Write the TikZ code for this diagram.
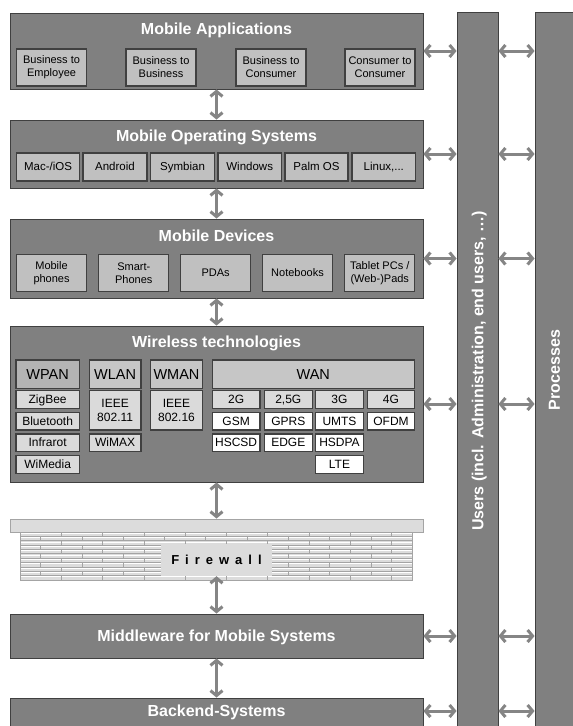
\documentclass[tikz,border=0pt]{standalone}
\usepackage{fontspec}
\setmainfont{Liberation Sans}
\usetikzlibrary{arrows.meta}
\definecolor{mainfill}{HTML}{808080}
\definecolor{edgec}{HTML}{404040}
\definecolor{subfill}{HTML}{C0C0C0}
\definecolor{hdrA}{HTML}{B4B4B4}
\definecolor{hdrB}{HTML}{C6C6C6}
\definecolor{itemfill}{HTML}{DADADA}
\definecolor{arrc}{HTML}{858585}
\definecolor{wallc}{HTML}{DCDCDC}
\definecolor{mortar}{HTML}{A4A4A4}
\newcommand\boxat[7]{%
  \pgfmathsetmacro\bw{#4-#2}\pgfmathsetmacro\bh{#5-#3}%
  \pgfmathsetmacro\bcx{(#2+#4)/2}\pgfmathsetmacro\bcy{(#3+#5)/2}%
  \node[#6, minimum width=\bw pt, minimum height=\bh pt] (#1) at (\bcx,\bcy) {#7};}
\tikzset{
  mainbox/.style={draw=edgec, fill=mainfill, line width=0.9pt, inner sep=0pt},
  title/.style={text=white, font=\fontsize{16}{19}\selectfont\bfseries, inner sep=0pt, text height=11.5pt, text depth=0pt},
  subbox/.style={draw=edgec, fill=subfill, line width=1.1pt, inner sep=0pt, align=center, font=\fontsize{11}{13}\selectfont},
  oneline/.style={text height=8.2pt, text depth=0.4pt},
  hdrbox/.style={draw=edgec, line width=1.1pt, inner sep=0pt, align=center, font=\fontsize{14.5}{16}\selectfont, text height=10.5pt, text depth=0pt},
  itembox/.style={draw=edgec, fill=itemfill, line width=1.1pt, inner sep=0pt, align=center, font=\fontsize{12}{14}\selectfont},
  whitebox/.style={itembox, fill=white},
  dblarrow/.style={draw=arrc, line width=3pt, arrows={Straight Barb[length=5pt,width=12pt]-Straight Barb[length=5pt,width=12pt]}},
}
\begin{document}
\begin{tikzpicture}[x=1pt,y=-1pt]
\clip (0,0) rectangle (573,726);
\fill[white] (0,0) rectangle (573,726);
% side columns
\boxat{users}{457}{12}{498}{745}{mainbox}{}
\boxat{proc}{535}{12}{590}{745}{mainbox}{}
\node[title, rotate=90] (userslab) at (477.5,371) {Users (incl. Administration, end users, …)};
\node[title, rotate=90] (proclab) at (554,370) {Processes};
% Mobile Applications
\boxat{ma}{10}{13}{423}{89}{mainbox}{}
\node[title] (matitle) at (216.5,29) {Mobile Applications};
\boxat{ma1}{16.5}{49}{86.6}{86}{subbox}{Business to\\Employee}
\boxat{ma2}{126}{49}{196}{86}{subbox}{Business to\\Business}
\boxat{ma3}{236}{49}{306}{86}{subbox}{Business to\\Consumer}
\boxat{ma4}{345}{49}{415}{86}{subbox}{Consumer to\\Consumer}
% Mobile OS
\boxat{os}{10}{120}{423}{188}{mainbox}{}
\node[title] (ostitle) at (216.5,136) {Mobile Operating Systems};
\boxat{os1}{16.5}{153}{79.7}{181}{subbox,oneline,font=\fontsize{11.5}{13}\selectfont}{Mac-/iOS}
\boxat{os2}{83}{153}{147}{181}{subbox,oneline,font=\fontsize{11.5}{13}\selectfont}{Android}
\boxat{os3}{150.6}{153}{214.5}{181}{subbox,oneline,font=\fontsize{11.5}{13}\selectfont}{Symbian}
\boxat{os4}{218}{153}{281.4}{181}{subbox,oneline,font=\fontsize{11.5}{13}\selectfont}{Windows}
\boxat{os5}{285}{153}{348}{181}{subbox,oneline,font=\fontsize{11.5}{13}\selectfont}{Palm OS}
\boxat{os6}{352}{153}{415.6}{181}{subbox,oneline,font=\fontsize{11.5}{13}\selectfont}{Linux,...}
% Mobile Devices
\boxat{md}{10}{219}{423}{298}{mainbox}{}
\node[title] (mdtitle) at (216.5,236) {Mobile Devices};
\boxat{md1}{16.5}{254.6}{86.6}{291.5}{subbox}{Mobile\\phones}
\boxat{md2}{98.7}{254.6}{168.9}{291.5}{subbox}{Smart-\\Phones}
\boxat{md3}{180.6}{254.6}{250.7}{291.5}{subbox,oneline}{PDAs}
\boxat{md4}{262.4}{254.6}{332.6}{291.5}{subbox,oneline}{Notebooks}
\boxat{md5}{344.7}{254.6}{414.8}{291.5}{subbox}{Tablet PCs /\\(Web-)Pads}
% Wireless
\boxat{wl}{10}{326}{423}{482}{mainbox}{}
\node[title] (wltitle) at (216.5,342) {Wireless technologies};
\boxat{wpan}{16}{360}{79.3}{388.3}{hdrbox,fill=hdrA}{WPAN}
\boxat{wlan}{89.3}{360}{141}{388.3}{hdrbox,fill=hdrB}{WLAN}
\boxat{wman}{150.7}{360}{202.3}{388.3}{hdrbox,fill=hdrB}{WMAN}
\boxat{wan}{212.3}{360}{414.3}{388.3}{hdrbox,fill=hdrB}{WAN}
\boxat{zig}{16}{390.7}{79.3}{408.3}{itembox,oneline}{ZigBee}
\boxat{blu}{16}{412.3}{79.3}{430}{itembox,oneline}{Bluetooth}
\boxat{inf}{16}{434}{79.3}{451.7}{itembox,oneline}{Infrarot}
\boxat{wim}{16}{455.7}{79.3}{473.3}{itembox,oneline}{WiMedia}
\boxat{ie11}{89.3}{390.7}{141}{430}{itembox}{IEEE\\802.11}
\boxat{wimax}{89.3}{434}{141}{451.7}{itembox,oneline}{WiMAX}
\boxat{ie16}{150.7}{390.7}{202.3}{430}{itembox}{IEEE\\802.16}
\boxat{g2}{212.3}{390.7}{260}{408.3}{itembox,oneline}{2G}
\boxat{g25}{264.3}{390.7}{312.3}{408.3}{itembox,oneline}{2,5G}
\boxat{g3}{315.7}{390.7}{363.3}{408.3}{itembox,oneline}{3G}
\boxat{g4}{367.7}{390.7}{414.3}{408.3}{itembox,oneline}{4G}
\boxat{gsm}{212.3}{412.3}{260}{430}{whitebox,oneline}{GSM}
\boxat{gprs}{264.3}{412.3}{312.3}{430}{whitebox,oneline}{GPRS}
\boxat{umts}{315.7}{412.3}{363.3}{430}{whitebox,oneline}{UMTS}
\boxat{ofdm}{367.7}{412.3}{414.3}{430}{whitebox,oneline}{OFDM}
\boxat{hscsd}{212.3}{434}{260}{451.7}{whitebox,oneline}{HSCSD}
\boxat{edge}{264.3}{434}{312.3}{451.7}{whitebox,oneline}{EDGE}
\boxat{hsdpa}{315.7}{434}{363.3}{451.7}{whitebox,oneline}{HSDPA}
\boxat{lte}{315.7}{455.7}{363.3}{473.3}{whitebox,oneline}{LTE}
% Firewall
\boxat{fwcap}{10}{519}{423}{532}{draw=mortar, fill=wallc, line width=0.9pt, inner sep=0pt}{}
\fill[wallc] (20,532) rectangle (412,580);
\begin{scope}
\clip (20,532) rectangle (412,580);
\foreach \r in {0,...,10} {
  \pgfmathsetmacro\ya{532+\r*48/11}
  \pgfmathsetmacro\yb{532+(\r+1)*48/11}
  \pgfmathsetmacro\off{mod(\r,2)*20.65}
  \draw[white, line width=0.8pt] (20,\ya+1.2) -- (412,\ya+1.2);
  \foreach \k in {0,...,10} {
    \pgfmathsetmacro\xx{20+41.3*\k+\off}
    \draw[mortar, line width=0.8pt] (\xx,\ya) -- (\xx,\yb);
  }
}
\foreach \r in {0,...,11} {
  \pgfmathsetmacro\ya{532+\r*48/11}
  \draw[mortar, line width=0.8pt] (20,\ya) -- (412,\ya);
}
\end{scope}
\draw[mortar, line width=0.8pt] (20,532) rectangle (412,580);
\newcommand\fwsp{\kern 6pt}
\boxat{fwlab}{161}{544}{272}{576}{fill=wallc, inner sep=0pt, font=\fontsize{13}{15}\selectfont\bfseries, text height=9.4pt, text depth=0pt}{F\fwsp i\fwsp r\fwsp e\fwsp w\fwsp a\fwsp l\fwsp l}
% Middleware, Backend
\boxat{mw}{10}{614}{423}{658}{mainbox}{}
\node[title] (mwtitle) at (mw.center) {Middleware for Mobile Systems};
\boxat{be}{10}{698}{423}{742}{mainbox}{}
\node[title] (betitle) at (216.5,711) {Backend-Systems};
% vertical arrows
\draw[dblarrow] (ma.south) -- (os.north);
\draw[dblarrow] (os.south) -- (md.north);
\draw[dblarrow] (md.south) -- (wl.north);
\draw[dblarrow] (wl.south) -- (fwcap.north);
\draw[dblarrow] (fwlab.south) -- (mw.north);
\draw[dblarrow] (mw.south) -- (be.north);
% horizontal arrows
\foreach \b in {ma,os,md,wl,mw} {
  \draw[dblarrow] (\b.east) -- (\b.east -| users.west);
  \draw[dblarrow] (\b.east -| users.east) -- (\b.east -| proc.west);
}
\coordinate (bearr) at (be.east |- betitle.center);
\draw[dblarrow] (bearr) -- (bearr -| users.west);
\draw[dblarrow] (bearr -| users.east) -- (bearr -| proc.west);
\end{tikzpicture}
\end{document}
